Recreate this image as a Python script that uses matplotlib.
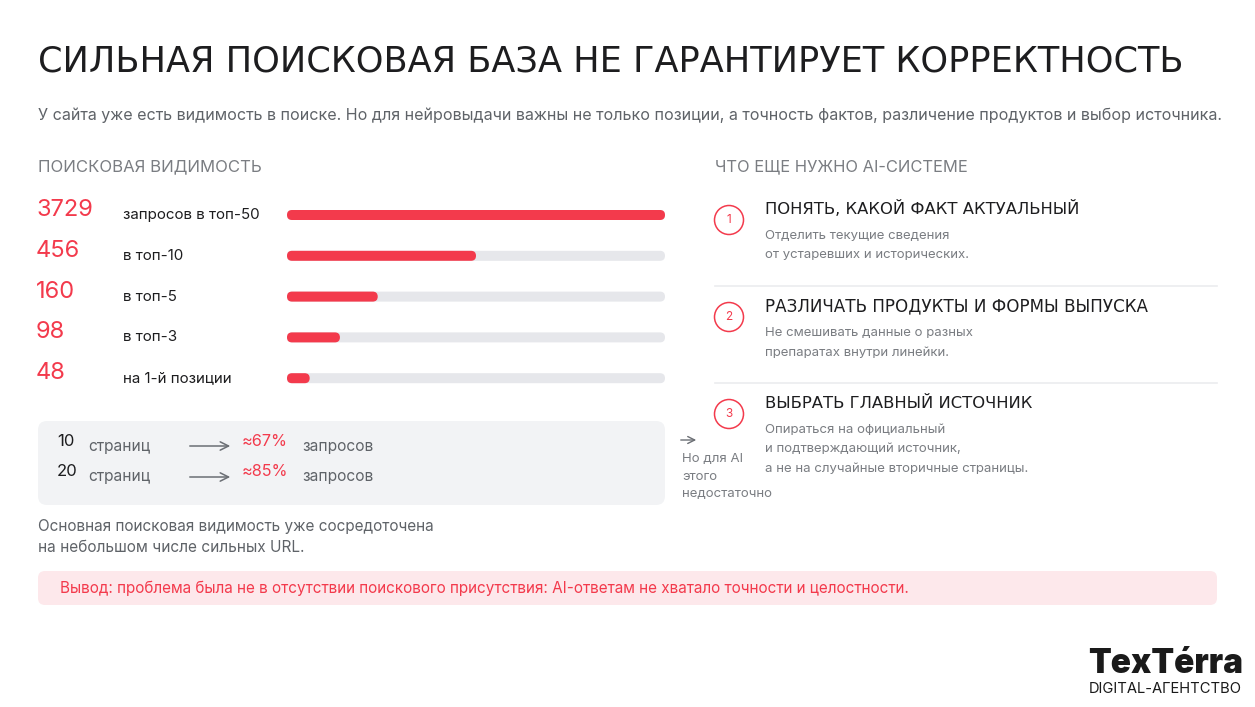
import matplotlib
matplotlib.use("Agg")
import matplotlib.pyplot as plt
from matplotlib.patches import FancyBboxPatch, Circle

# Palette
RED = "#f33a4c"
DARK = "#1d1d1f"
GRAY = "#5f6368"
LIGHT_GRAY = "#7a7d82"
TRACK = "#e6e7eb"
BOX = "#f2f3f5"
PINK = "#fde8eb"

BODY_FONT = ["Inter", "DejaVu Sans"]
HEAD_FONT = ["DejaVu Sans"]

# Data
TITLE = "СИЛЬНАЯ ПОИСКОВАЯ БАЗА НЕ ГАРАНТИРУЕТ КОРРЕКТНОСТЬ"
SUBTITLE = ("У сайта уже есть видимость в поиске. Но для нейровыдачи важны не только позиции, "
            "а точность фактов, различение продуктов и выбор источника.")

vis_values = ["3729", "456", "160", "98", "48"]
vis_labels = ["запросов в топ-50", "в топ-10", "в топ-5", "в топ-3", "на 1-й позиции"]
bar_share = [1.0, 0.50, 0.24, 0.14, 0.06]

pages = ["10", "20"]
page_share = ["≈67%", "≈85%"]

steps = ["ПОНЯТЬ, КАКОЙ ФАКТ АКТУАЛЬНЫЙ",
         "РАЗЛИЧАТЬ ПРОДУКТЫ И ФОРМЫ ВЫПУСКА",
         "ВЫБРАТЬ ГЛАВНЫЙ ИСТОЧНИК"]
step_width = [316, 386, 270]
step_desc = [["Отделить текущие сведения", "от устаревших и исторических."],
             ["Не смешивать данные о разных", "препаратах внутри линейки."],
             ["Опираться на официальный", "и подтверждающий источник,",
              "а не на случайные вторичные страницы."]]

CONCLUSION = ("Вывод: проблема была не в отсутствии поискового присутствия: "
              "AI-ответам не хватало точности и целостности.")

fig = plt.figure(figsize=(12.55, 7.07), dpi=100)
ax = fig.add_axes([0, 0, 1, 1])
ax.set_xlim(0, 1255)
ax.set_ylim(707, 0)
ax.axis("off")
renderer = fig.canvas.get_renderer()


def fit(x, y, s, width, **kw):
    """Place text and scale its size so it spans `width` pixels."""
    t = ax.text(x, y, s, **kw)
    w = t.get_window_extent(renderer).width
    t.set_fontsize(t.get_fontsize() * width / w)
    return t


def rbox(x, y, w, h, color, r):
    ax.add_patch(FancyBboxPatch((x, y), w, h, boxstyle=f"round,pad=0,rounding_size={r}",
                                facecolor=color, edgecolor="none"))


# Header
fit(38, 61, TITLE, 1145, fontsize=28, color=DARK, family=HEAD_FONT, va="center")
fit(38, 115, SUBTITLE, 1175, fontsize=11, color=GRAY, family=BODY_FONT, va="center")

# Left column: search visibility
fit(38, 167, "ПОИСКОВАЯ ВИДИМОСТЬ", 224, fontsize=11, color=LIGHT_GRAY,
    family=BODY_FONT, va="center")

x0, x1 = 287, 665
for i, (v, lab, share) in enumerate(zip(vis_values, vis_labels, bar_share)):
    yc = 215 + i * 40.8
    ax.text(36, yc - 5, v, fontsize=17, color=RED, family=BODY_FONT, va="center")
    ax.text(123, yc, lab, fontsize=10.9, color=DARK, family=BODY_FONT, va="center")
    rbox(x0, yc - 5, x1 - x0, 10, TRACK, 5)
    rbox(x0, yc - 5, (x1 - x0) * share, 10, RED, 5)

# Concentration box
rbox(38, 421, 627, 84, BOX, 9)
for i, (p, s) in enumerate(zip(pages, page_share)):
    yc = 446 + i * 31
    ax.text(57, yc - 5, p, fontsize=12, color=DARK, family=BODY_FONT, va="center")
    ax.text(88, yc, "страниц", fontsize=11.2, color=GRAY, family=BODY_FONT, va="center")
    ax.annotate("", xy=(233, yc), xytext=(187, yc),
                arrowprops=dict(arrowstyle="->,head_length=0.6,head_width=0.3",
                                color="#6b6e74", lw=1.1))
    ax.text(242, yc - 5, s, fontsize=11.7, color=RED, family=BODY_FONT, va="center")
    ax.text(302, yc, "запросов", fontsize=11.2, color=GRAY, family=BODY_FONT, va="center")

ax.annotate("", xy=(699, 440), xytext=(678, 440),
            arrowprops=dict(arrowstyle="->,head_length=0.5,head_width=0.25",
                            color="#6b6e74", lw=1.0))
for j, line in enumerate(["Но для AI", "этого", "недостаточно"]):
    ax.text(682, 459 + j * 17.5, line, fontsize=9.5, color=LIGHT_GRAY,
            family=BODY_FONT, va="center")

fit(38, 527, "Основная поисковая видимость уже сосредоточена", 398, fontsize=10.5,
    color=GRAY, family=BODY_FONT, va="center")
ax.text(38, 548, "на небольшом числе сильных URL.", fontsize=11.1,
        color=GRAY, family=BODY_FONT, va="center")

# Right column: what AI needs
fit(715, 167, "ЧТО ЕЩЕ НУЖНО AI-СИСТЕМЕ", 253, fontsize=11, color=LIGHT_GRAY,
    family=BODY_FONT, va="center")

for i, (head, hw, desc) in enumerate(zip(steps, step_width, step_desc)):
    y_head = 209 + i * 97
    ax.add_patch(Circle((729, y_head + 11), 14.5, facecolor="white", edgecolor=RED, lw=1.1))
    ax.text(729, y_head + 11, str(i + 1), fontsize=8.5, color=RED, family=BODY_FONT,
            ha="center", va="center")
    fit(765, y_head, head, hw, fontsize=12.5, color=DARK, family=HEAD_FONT, va="center")
    for j, line in enumerate(desc):
        ax.text(765, y_head + 27 + j * 19.5, line, fontsize=9.5, color=LIGHT_GRAY,
                family=BODY_FONT, va="center")
    if i < len(steps) - 1:
        ax.plot([715, 1217], [y_head + 77, y_head + 77], color="#ebecef", lw=1.2)

# Conclusion banner
rbox(38, 571, 1179, 34, PINK, 7)
fit(60, 588, CONCLUSION, 853, fontsize=10.5, color=RED, family=BODY_FONT, va="center")

# Logo
fit(1088, 664, "TexTérra", 155, fontsize=24, color="#1a1a1a", family=BODY_FONT,
    weight="black", va="center")
fit(1089, 689, "DIGITAL-АГЕНТСТВО", 154, fontsize=9, color="#1a1a1a",
    family=BODY_FONT, va="center")

fig.savefig("out.png", dpi=100, facecolor="white")
